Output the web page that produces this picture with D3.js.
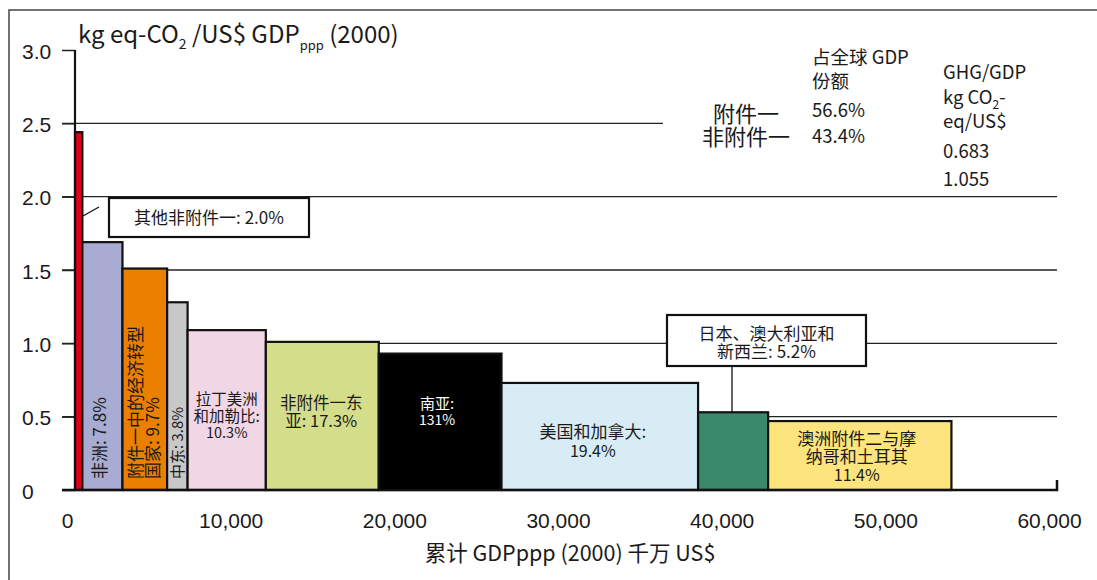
<!DOCTYPE html>
<html>
  <head>
    <meta charset="utf-8">
    <title>GHG intensity by region</title>
    <meta name="viewport" content="width=device-width, initial-scale=1.0">
    <script src="https://d3js.org/d3.v7.min.js"></script>
    <style>
      body { margin: 0; background: #fff; }
      svg { display: block; font-family: "Noto Sans CJK SC", "Noto Sans", sans-serif; fill: #1a1a1a; }
      .axis text { font-size: 21px; fill: #1a1a1a; }
    </style>
  </head>
  <body>
    <svg id="chart" width="1097" height="580"></svg>
    <script>
      // chart data
      const regions = ["其他非附件一", "非洲", "附件一中的经济转型国家", "中东", "拉丁美洲和加勒比",
        "非附件一东亚", "南亚", "美国和加拿大", "日本、澳大利亚和新西兰", "澳洲附件二与摩纳哥和土耳其"];
      const gdpWidths = [450, 2450, 2730, 1250, 4780, 6900, 7500, 12010, 4280, 11200];
      const intensity = [2.44, 1.69, 1.51, 1.28, 1.09, 1.01, 0.93, 0.73, 0.53, 0.47];
      const colours = ["#e2001a", "#a8acd2", "#ea7f00", "#c8c8c8", "#f1d6e6",
        "#d4de8a", "#000000", "#d7ecf5", "#3a896a", "#fde47d"];
      const barLabels = [
        ["其他非附件一: 2.0%"],
        ["非洲: 7.8%"],
        ["附件一中的经济转型", "国家: 9.7%"],
        ["中东: 3.8%"],
        ["拉丁美洲", "和加勒比:", "10.3%"],
        ["非附件一东", "亚: 17.3%"],
        ["南亚:", "131%"],
        ["美国和加拿大:", "19.4%"],
        ["日本、澳大利亚和", "新西兰: 5.2%"],
        ["澳洲附件二与摩", "纳哥和土耳其", "11.4%"]
      ];
      const yTicks = [0, 0.5, 1, 1.5, 2, 2.5, 3];
      const xTicks = [0, 10000, 20000, 30000, 40000, 50000, 60000];
      const legendGroups = ["附件一", "非附件一"];
      const gdpShare = ["56.6%", "43.4%"];
      const ghgPerGdp = ["0.683", "1.055"];

      // page elements
      const chart = d3.select("#chart");
      const starts = [0].concat(Array.from(d3.cumsum(gdpWidths)).slice(0, -1));
      const bars = regions.map(function(r, i) {
        return { region: r, x0: starts[i], x1: starts[i] + gdpWidths[i], v: intensity[i], colour: colours[i], label: barLabels[i] };
      });

      // set up
      const x = d3.scaleLinear().domain([0, 60000]).range([75, 1057]);
      const y = d3.scaleLinear().domain([0, 3]).range([490, 50]);

      // frame
      chart.append("rect")
        .attr("x", 9).attr("y", 10)
        .attr("width", 1200).attr("height", 700)
        .attr("fill", "none").attr("stroke", "#444").attr("stroke-width", 1.5);

      // grid lines
      chart.append("g")
        .selectAll("line")
        .data(yTicks.filter(function(d) { return d > 0 && d < 3; }))
        .join("line")
          .attr("x1", 62)
          .attr("x2", function(d) { return d === 2.5 ? 663 : x(60000); })
          .attr("y1", function(d) { return y(d); })
          .attr("y2", function(d) { return y(d); })
          .attr("stroke", "#222")
          .attr("stroke-width", 1.3);

      // bars
      chart.append("g")
        .selectAll("rect")
        .data(bars)
        .join("rect")
          .attr("x", function(d) { return x(d.x0); })
          .attr("width", function(d) { return x(d.x1) - x(d.x0); })
          .attr("y", function(d) { return y(d.v); })
          .attr("height", function(d) { return y(0) - y(d.v); })
          .attr("fill", function(d) { return d.colour; })
          .attr("stroke", "#111")
          .attr("stroke-width", 2.2);

      // y axis
      const yAxis = d3.axisLeft(y)
        .tickValues(yTicks)
        .tickSize(13)
        .tickSizeOuter(0)
        .tickFormat(function(d) { return d === 0 ? "0" : d3.format(".1f")(d); });
      const yAxisGroup = chart.append("g")
        .attr("class", "axis")
        .attr("transform", "translate(75, 0)")
        .call(yAxis);
      yAxisGroup.select(".domain").remove();
      yAxisGroup.selectAll(".tick line").attr("stroke", "#222").attr("stroke-width", 1.5);
      yAxisGroup.selectAll(".tick text")
        .attr("text-anchor", "start")
        .attr("x", -53)
        .attr("dy", "0.62em")
        .attr("transform", "translate(0, -5)");
      chart.append("line")
        .attr("x1", 75).attr("x2", 75)
        .attr("y1", y(3)).attr("y2", y(0))
        .attr("stroke", "#111").attr("stroke-width", 2.2);

      // x axis
      const xAxis = d3.axisBottom(x)
        .tickValues(xTicks)
        .tickSize(0)
        .tickPadding(23)
        .tickFormat(d3.format(","));
      const xAxisGroup = chart.append("g")
        .attr("class", "axis")
        .attr("transform", "translate(0, " + y(0) + ")")
        .call(xAxis);
      xAxisGroup.select(".domain").remove();
      xAxisGroup.selectAll(".tick text").attr("dx", -8);
      chart.append("path")
        .attr("d", "M62," + y(0) + "H" + x(60000) + "V" + (y(0) - 10))
        .attr("fill", "none")
        .attr("stroke", "#111")
        .attr("stroke-width", 2.5);

      // axis titles
      const title = chart.append("text")
        .attr("x", 78).attr("y", 43)
        .style("font-size", "24px");
      title.append("tspan").text("kg eq-CO");
      title.append("tspan").attr("dy", 6).style("font-size", "14px").text("2");
      title.append("tspan").attr("dy", -6).text(" /US$ GDP");
      title.append("tspan").attr("dy", 7).style("font-size", "13px").text("ppp");
      title.append("tspan").attr("dy", -7).text(" (2000)");
      chart.append("text")
        .attr("x", 570).attr("y", 561)
        .attr("text-anchor", "middle")
        .style("font-size", "21.5px")
        .text("累计 GDPppp (2000) 千万 US$");

      // rotated labels inside narrow bars
      const rotated = [{ i: 1, size: 17, dx: -3 }, { i: 2, size: 17, dx: 0 }, { i: 3, size: 15, dx: 0 }];
      rotated.forEach(function(r) {
        const d = bars[r.i];
        const cx = (x(d.x0) + x(d.x1)) / 2 + r.dx;
        const lh = r.size;
        d.label.forEach(function(line, k) {
          chart.append("text")
            .attr("transform", "translate(" + (cx + (k - (d.label.length - 1) / 2) * lh) + ", 479) rotate(-90)")
            .attr("dy", "0.36em")
            .style("font-size", r.size + "px")
            .style("fill", "#1a1a1a")
            .text(line);
        });
      });

      // horizontal labels inside bars
      const flat = [
        { i: 4, top: 405, lh: 16.5, size: 15.5, dx: 0 },
        { i: 5, top: 409, lh: 17.5, size: 16.5, dx: -1 },
        { i: 6, top: 409, lh: 16, size: 15, dx: -3 },
        { i: 7, top: 438, lh: 18.5, size: 17, dx: -7 },
        { i: 9, top: 445, lh: 18, size: 17, dx: -3 }
      ];
      flat.forEach(function(f) {
        const d = bars[f.i];
        const cx = (x(d.x0) + x(d.x1)) / 2 + f.dx;
        d.label.forEach(function(line, k) {
          chart.append("text")
            .attr("x", cx)
            .attr("y", f.top + k * f.lh)
            .attr("text-anchor", "middle")
            .style("font-size", (k === d.label.length - 1 && /^[0-9.%]+$/.test(line) ? f.size - 1 : f.size) + "px")
            .style("fill", d.colour === "#000000" ? "#fff" : "#1a1a1a")
            .text(line);
        });
      });

      // call-out boxes
      const callouts = [
        { i: 0, box: [109, 198, 200, 39], top: 224, lh: 18, lead: [[83, 216], [99, 207]] },
        { i: 8, box: [667, 315, 199, 51], top: 340, lh: 18, lead: [[732, 366], [732, y(intensity[8])]] }
      ];
      callouts.forEach(function(c) {
        const d = bars[c.i];
        chart.append("rect")
          .attr("x", c.box[0]).attr("y", c.box[1])
          .attr("width", c.box[2]).attr("height", c.box[3])
          .attr("fill", "#fff").attr("stroke", "#111").attr("stroke-width", 2.2);
        chart.append("path")
          .attr("d", d3.line()(c.lead))
          .attr("stroke", "#111").attr("stroke-width", 1.3);
        d.label.forEach(function(line, k) {
          chart.append("text")
            .attr("x", c.box[0] + c.box[2] / 2)
            .attr("y", c.top + k * c.lh)
            .attr("text-anchor", "middle")
            .style("font-size", "17px")
            .text(line);
        });
      });

      // legend table
      const legend = chart.append("g");
      legendGroups.forEach(function(g, k) {
        legend.append("text")
          .attr("x", 746).attr("y", 122 + k * 23)
          .attr("text-anchor", "middle")
          .style("font-size", "22px")
          .text(g);
        legend.append("text")
          .attr("x", 812).attr("y", 117 + k * 26)
          .style("font-size", "18.5px")
          .text(gdpShare[k]);
        legend.append("text")
          .attr("x", 943).attr("y", 158 + k * 28)
          .style("font-size", "18.5px")
          .text(ghgPerGdp[k]);
      });
      legend.append("text").attr("x", 812).attr("y", 64).style("font-size", "18.5px").text("占全球 GDP");
      legend.append("text").attr("x", 812).attr("y", 88).style("font-size", "18.5px").text("份额");
      legend.append("text").attr("x", 943).attr("y", 79).style("font-size", "18.5px").text("GHG/GDP");
      const unit = legend.append("text").attr("x", 943).attr("y", 104).style("font-size", "18.5px");
      unit.append("tspan").text("kg CO");
      unit.append("tspan").attr("dy", 5).style("font-size", "12px").text("2");
      unit.append("tspan").attr("dy", -5).text("-");
      legend.append("text").attr("x", 943).attr("y", 128).style("font-size", "18.5px").text("eq/US$");
    </script>
  </body>
</html>
